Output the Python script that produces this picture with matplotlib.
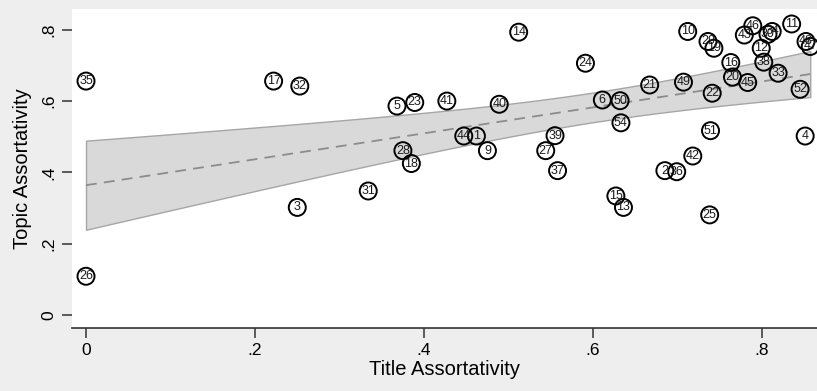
import numpy as np
import matplotlib
matplotlib.use("Agg")
import matplotlib.pyplot as plt

plt.rcParams['font.family'] = ['Liberation Sans', 'DejaVu Sans']

# point labels and coordinates
labels = ['35', '26', '17', '32', '3', '31', '5', '23', '28', '18', '41',
          '44', '1', '9', '40', '14', '39', '27', '37', '24', '6', '50',
          '54', '15', '13', '21', '2', '36', '42', '49', '10', '29', '19',
          '22', '51', '25', '16', '20', '45', '43', '46', '12', '38', '30',
          '34', '33', '11', '52', '4', '48', '47']
title_assort = [0.000, 0.000, 0.222, 0.253, 0.250, 0.334, 0.368, 0.389, 0.375, 0.385, 0.427,
                0.447, 0.462, 0.475, 0.489, 0.512, 0.555, 0.544, 0.558, 0.591, 0.611, 0.632,
                0.633, 0.627, 0.636, 0.667, 0.685, 0.699, 0.718, 0.707, 0.712, 0.736, 0.743,
                0.741, 0.739, 0.738, 0.763, 0.765, 0.783, 0.779, 0.789, 0.799, 0.802, 0.807,
                0.812, 0.819, 0.835, 0.845, 0.851, 0.852, 0.857]
topic_assort = [0.656, 0.109, 0.656, 0.642, 0.302, 0.348, 0.586, 0.596, 0.461, 0.425, 0.600,
                0.502, 0.502, 0.461, 0.591, 0.793, 0.503, 0.461, 0.405, 0.706, 0.603, 0.601,
                0.539, 0.334, 0.302, 0.645, 0.405, 0.402, 0.446, 0.653, 0.795, 0.767, 0.748,
                0.622, 0.517, 0.281, 0.708, 0.667, 0.652, 0.785, 0.811, 0.748, 0.709, 0.787,
                0.795, 0.678, 0.816, 0.633, 0.502, 0.767, 0.753]

x = np.array(title_assort)
y = np.array(topic_assort)

# linear fit with 95% confidence interval of the mean
n = len(x)
b1, b0 = np.polyfit(x, y, 1)
resid = y - (b0 + b1 * x)
s = np.sqrt(np.sum(resid**2) / (n - 2))
xg = np.linspace(x.min(), x.max(), 200)
yg = b0 + b1 * xg
se = s * np.sqrt(1.0 / n + (xg - x.mean())**2 / np.sum((x - x.mean())**2))
t = 2.01
lo, hi = yg - t * se, yg + t * se

fig = plt.figure(figsize=(8.17, 3.91), dpi=100, facecolor='#eeeeee')
ax = fig.add_axes([0.0881, 0.1611, 0.9119, 0.8159])
ax.set_facecolor('white')

ax.fill_between(xg, lo, hi, facecolor='#d9d9d9', edgecolor='#a6a6a6', linewidth=1.0, zorder=1)
ax.plot(xg, yg, color='#8c8c8c', linestyle=(0, (6, 4)), linewidth=1.3, zorder=2)

ax.scatter(x, y, s=150, facecolors='none', edgecolors='black', linewidths=1.4, zorder=3)
for lab, xi, yi in zip(labels, x, y):
    ax.text(xi, yi, lab, ha='center', va='center', fontsize=9, color='#1a1a1a', zorder=4)

ax.set_xlim(-0.0166, 0.865)
ax.set_ylim(-0.036, 0.858)
ax.set_xticks([0, 0.2, 0.4, 0.6, 0.8])
ax.set_xticklabels(['0', '.2', '.4', '.6', '.8'])
ax.set_yticks([0, 0.2, 0.4, 0.6, 0.8])
ax.set_yticklabels(['0', '.2', '.4', '.6', '.8'], rotation=90, va='center')
ax.tick_params(axis='both', labelsize=12.5, length=7, width=1.1, color='#333333', pad=4)

for side in ['top', 'right', 'left']:
    ax.spines[side].set_visible(False)
ax.spines['bottom'].set_color('#333333')
ax.spines['bottom'].set_linewidth(1.2)

ax.set_xlabel('Title Assortativity', fontsize=14.5, labelpad=1)
ax.set_ylabel('Topic Assortativity', fontsize=14.5, labelpad=7)

fig.savefig('out.png', dpi=100, facecolor=fig.get_facecolor())
